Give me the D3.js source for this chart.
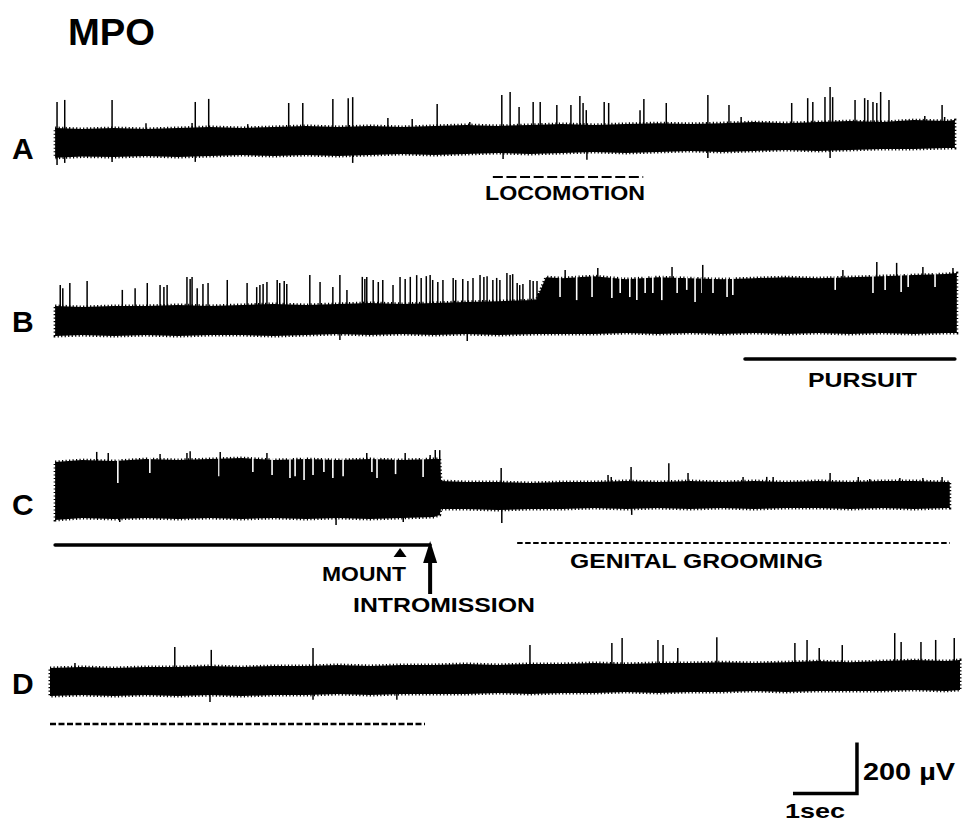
<!DOCTYPE html>
<html>
<head>
<meta charset="utf-8">
<script src="https://cdn.jsdelivr.net/npm/d3@7/dist/d3.min.js"></script>
<style>
  body { margin: 0; background: #fff; }
  svg { display: block; }
  text { font-family: "Liberation Sans", Arial, Helvetica, sans-serif; font-weight: bold; fill: #000; }
</style>
</head>
<body>
<svg id="chart" width="962" height="823"></svg>
<script>
// ---- recordings: envelope rows are [time (s), upper (µV), lower (µV)] ----
const envA = [
  [0.08, 55, -62], [0.5, 51, -57], [1.0, 55, -59], [1.5, 51, -55], [2.0, 55, -59],
  [2.5, 59, -55], [3.0, 55, -51], [3.5, 59, -55], [4.0, 63, -51], [4.5, 59, -55],
  [5.0, 63, -51], [5.5, 59, -47], [6.0, 63, -51], [6.5, 67, -47], [7.0, 63, -43],
  [7.5, 67, -47], [8.0, 71, -43], [8.5, 67, -39], [9.0, 71, -43], [9.5, 74, -39],
  [10.0, 71, -35], [10.5, 74, -39], [11.0, 78, -35], [11.5, 74, -31], [12.0, 78, -35],
  [12.5, 82, -31], [13.0, 78, -27], [13.5, 86, -27], [14.0, 82, -24], [14.14, 86, -24]
];
// unit discharges: [time (s), peak (µV)], negative peaks point down
const spikesA = [
  [0.11, 157], [0.23, 165], [0.97, 165], [1.50, 74], [2.22, 75], [2.27, 157], [2.48, 169],
  [3.09, 70], [3.73, 153], [3.95, 153], [4.42, 169], [4.66, 172], [4.73, 176], [5.28, 94],
  [5.66, 90], [6.05, 149], [6.56, 78], [7.06, 184], [7.19, 196], [7.33, 137], [7.55, 157],
  [7.66, 157], [7.92, 145], [8.14, 145], [8.28, 180], [8.33, 153], [8.38, 125], [8.66, 157],
  [8.73, 153], [9.22, 125], [9.28, 169], [9.63, 153], [10.28, 184], [10.61, 145], [10.80, 98],
  [11.59, 153], [11.84, 172], [11.92, 157], [12.11, 176], [12.19, 216], [12.23, 176],
  [12.58, 165], [12.73, 172], [12.78, 165], [12.86, 157], [12.92, 153], [12.98, 196],
  [13.11, 165], [13.67, 102], [13.94, 145], [13.98, 98],
  [0.11, -90], [0.23, -82], [0.97, -78], [2.27, -78], [4.73, -82], [7.08, -67],
  [8.39, -70], [10.28, -63], [12.19, -63]
];

const envB = [
  [0.08, 55, -63], [0.5, 51, -59], [1.0, 55, -63], [1.5, 55, -59], [2.0, 59, -63],
  [2.5, 55, -59], [3.0, 59, -59], [3.5, 63, -63], [4.0, 59, -59], [4.5, 63, -55],
  [5.0, 67, -59], [5.5, 63, -55], [6.0, 67, -59], [6.5, 71, -55], [7.0, 74, -59],
  [7.6, 78, -55], [7.75, 168, -55], [8.0, 164, -55], [8.5, 172, -55], [9.0, 160, -51],
  [9.5, 168, -55], [10.0, 164, -51], [10.5, 160, -55], [11.0, 164, -51], [11.5, 168, -55],
  [12.0, 164, -51], [12.5, 168, -55], [13.0, 172, -51], [13.5, 176, -55], [14.0, 180, -51],
  [14.17, 184, -51]
];
const spikesB = [
  [0.16, 137], [0.20, 125], [0.31, 145], [0.58, 153], [1.13, 118], [1.33, 125], [1.52, 145],
  [1.72, 137], [1.78, 129], [1.83, 137], [2.14, 169], [2.19, 161], [2.22, 169], [2.30, 125],
  [2.39, 141], [2.47, 145], [2.77, 157], [3.08, 145], [3.23, 129], [3.28, 137], [3.33, 141],
  [3.39, 149], [3.55, 157], [3.59, 145], [3.66, 153], [3.70, 141], [4.06, 176], [4.22, 149],
  [4.42, 129], [4.53, 176], [4.64, 118], [4.88, 169], [4.92, 161], [4.95, 169], [5.05, 157],
  [5.13, 149], [5.20, 157], [5.36, 137], [5.47, 169], [5.55, 161], [5.63, 169], [5.73, 176],
  [5.80, 165], [5.88, 172], [5.94, 176], [5.98, 157], [6.06, 149], [6.14, 157], [6.30, 165],
  [6.34, 157], [6.45, 161], [6.53, 153], [6.61, 165], [6.72, 176], [6.78, 169], [6.83, 172],
  [6.92, 157], [6.98, 165], [7.03, 157], [7.14, 184], [7.19, 176], [7.23, 180], [7.30, 145],
  [7.34, 137], [7.39, 141], [7.50, 157], [7.55, 153], [7.61, 153], [7.63, 106],
  [8.05, 196], [8.56, 204], [9.72, 208], [10.20, 216], [12.39, 196], [12.92, 227],
  [13.23, 224], [13.64, 208], [14.11, 204],
  [4.53, -78], [6.52, -82]
];
// dips in the upper edge during the sustained discharge: [time (s), depth (µV)]
const dipsB = [
  [7.97, 90], [8.23, 78], [8.47, 90], [8.78, 86], [8.91, 106], [9.06, 90], [9.17, 78],
  [9.30, 106], [9.42, 106], [9.56, 78], [9.80, 106], [9.95, 118], [10.08, 71], [10.19, 106],
  [10.36, 106], [10.58, 90], [10.67, 98], [12.27, 118], [12.86, 106], [13.05, 118],
  [13.30, 110], [13.41, 129], [13.83, 129]
];

const envC = [
  [0.08, 129, -98], [0.5, 137, -90], [1.0, 133, -94], [1.5, 141, -90], [2.0, 137, -94],
  [2.5, 141, -90], [3.0, 145, -94], [3.5, 137, -90], [4.0, 141, -94], [4.5, 137, -90],
  [5.0, 141, -94], [5.5, 137, -90], [6.0, 141, -86], [6.09, 141, -78], [6.11, 55, -55],
  [6.5, 51, -55], [7.0, 51, -59], [7.5, 47, -55], [8.0, 51, -55], [8.5, 51, -51],
  [9.0, 55, -55], [9.5, 51, -51], [10.0, 55, -55], [10.5, 51, -51], [11.0, 55, -55],
  [11.5, 51, -51], [12.0, 55, -51], [12.5, 51, -55], [13.0, 55, -51], [13.5, 55, -55],
  [14.0, 51, -51], [14.06, 51, -51]
];
const spikesC = [
  [0.73, 169], [0.91, 165], [1.72, 161], [2.14, 165], [2.19, 172], [2.66, 169], [3.39, 165],
  [4.95, 165], [5.55, 165], [5.94, 157], [6.02, 176], [6.09, 176],
  [7.05, 106], [8.72, 78], [8.77, 71], [9.08, 110], [9.67, 125], [9.97, 86], [10.83, 71],
  [11.20, 71], [11.30, 71], [12.19, 86], [12.63, 71], [12.81, 63], [13.28, 67], [13.64, 67],
  [13.94, 71],
  [1.09, -106], [4.47, -118], [5.52, -106], [7.06, -110], [9.09, -78]
];
const dipsC = [
  [1.06, 47], [1.56, 86], [2.64, 74], [3.17, 90], [3.47, 78], [3.75, 67], [3.83, 74],
  [3.97, 59], [4.11, 78], [4.28, 90], [4.42, 67], [4.58, 74], [5.03, 90], [5.11, 67],
  [5.40, 82], [5.83, 71]
];

const envD = [
  [0.0, 51, -59], [0.5, 55, -55], [1.0, 51, -59], [1.5, 55, -55], [2.0, 55, -59],
  [2.5, 59, -55], [3.0, 55, -59], [3.5, 59, -55], [4.0, 59, -55], [4.5, 63, -51],
  [5.0, 59, -55], [5.5, 63, -51], [6.0, 63, -51], [6.5, 67, -51], [7.0, 63, -47],
  [7.5, 67, -51], [8.0, 67, -47], [8.5, 71, -47], [9.0, 67, -43], [9.5, 71, -47],
  [10.0, 71, -43], [10.5, 74, -43], [11.0, 71, -39], [11.5, 74, -43], [12.0, 78, -39],
  [12.5, 74, -39], [13.0, 78, -39], [13.5, 82, -35], [14.0, 78, -39], [14.22, 82, -35]
];
const spikesD = [
  [0.39, 71], [1.95, 133], [2.52, 122], [4.11, 129], [7.50, 141], [8.78, 149], [8.94, 169],
  [9.50, 161], [9.58, 141], [9.81, 129], [10.42, 172], [11.64, 149], [11.83, 161],
  [12.02, 129], [12.38, 141], [13.20, 188], [13.30, 153], [13.61, 153], [13.84, 161],
  [14.13, 169],
  [2.50, -82], [4.11, -74], [5.42, -74]
];

const traceLabels = ["A", "B", "C", "D"];

// behavioural epochs: [trace, start (s), end (s)]
const epochLocomotion = ["A", 6.92, 9.27];
const epochPursuit = ["B", 10.86, 14.14];
const epochMount = ["C", 0.08, 5.94];
const epochGrooming = ["C", 7.30, 14.06];
const epochGroomingD = ["D", 0.0, 5.86];
const mountTime = 5.47;
const intromissionTime = 5.94;

// calibration: 1 s by 200 µV
const calTime = [11.61, 12.61];
const calVolt = [0, 200];

// ---- drawing ----
const svg = d3.select("#chart");
const x = d3.scaleLinear().domain([0, 14.22]).range([50, 960]);
const PX_PER_200UV = 51;
const rowBase = { A: 142, B: 320, C: 495, D: 681 };
const yFor = id => d3.scaleLinear().domain([0, 200]).range([rowBase[id], rowBase[id] - PX_PER_200UV]);

const traces = [
  { id: "A", env: envA, spikes: spikesA, dips: [] },
  { id: "B", env: envB, spikes: spikesB, dips: dipsB },
  { id: "C", env: envC, spikes: spikesC, dips: dipsC },
  { id: "D", env: envD, spikes: spikesD, dips: [] }
];

const labelBaseline = { A: 159, B: 332, C: 515, D: 694 };

traces.forEach(tr => {
  const y = yFor(tr.id);
  const g = svg.append("g").attr("class", "trace-" + tr.id);

  const area = d3.area()
    .x(d => x(d[0]))
    .y0(d => y(d[2]))
    .y1(d => y(d[1]))
    .curve(d3.curveLinear);
  // solid envelope, outlined with a serrated stroke for the ink-trace edge
  g.append("path").datum(tr.env).attr("d", area)
    .attr("fill", "#000")
    .attr("stroke", "#000").attr("stroke-width", 3)
    .attr("stroke-dasharray", "1.2,2.3");

  g.selectAll("line.dip").data(tr.dips).join("line")
    .attr("class", "dip")
    .attr("x1", d => x(d[0])).attr("x2", d => x(d[0]))
    .attr("y1", y(240)).attr("y2", d => y(d[1]))
    .attr("stroke", "#fff").attr("stroke-width", 1.6);

  g.selectAll("line.spike").data(tr.spikes).join("line")
    .attr("class", "spike")
    .attr("x1", d => x(d[0])).attr("x2", d => x(d[0]))
    .attr("y1", y(0)).attr("y2", d => y(d[1]))
    .attr("stroke", "#000").attr("stroke-width", 1.5);
});

traceLabels.forEach(id => {
  svg.append("text").attr("x", 12).attr("y", labelBaseline[id])
    .attr("font-size", 30).text(id);
});

svg.append("text").attr("x", 68).attr("y", 45).attr("font-size", 37)
  .attr("textLength", 87).attr("lengthAdjust", "spacingAndGlyphs").text("MPO");

function epochLine(ep, yPix, dash, width) {
  svg.append("line")
    .attr("x1", x(ep[1])).attr("x2", x(ep[2]))
    .attr("y1", yPix).attr("y2", yPix)
    .attr("stroke", "#000").attr("stroke-width", width)
    .attr("stroke-dasharray", dash)
    .attr("stroke-linecap", dash ? "butt" : "round");
}
function label(txt, x0, base, size, len) {
  svg.append("text").attr("x", x0).attr("y", base).attr("font-size", size)
    .attr("textLength", len).attr("lengthAdjust", "spacingAndGlyphs").text(txt);
}

epochLine(epochLocomotion, 177, "10,3.6", 2);
label("LOCOMOTION", 485, 200, 21, 160);

epochLine(epochPursuit, 359, null, 3.5);
label("PURSUIT", 808, 387, 21, 109);

epochLine(epochMount, 545, null, 3.5);
epochLine(epochGrooming, 543, "5.5,2.5", 2);
label("GENITAL GROOMING", 570, 568, 21, 253);

epochLine(epochGroomingD, 724, "6,2.5", 2.5);

// mount marker and intromission arrow
const xm = x(mountTime);
svg.append("path")
  .attr("d", `M${xm - 6.5},557 L${xm},548 L${xm + 6.5},557 Z`).attr("fill", "#000");
label("MOUNT", 322, 581, 21, 84);

const xi = x(intromissionTime);
svg.append("rect").attr("x", xi - 2).attr("y", 556).attr("width", 4).attr("height", 38).attr("fill", "#000");
svg.append("path")
  .attr("d", `M${xi - 7},563 L${xi},541 L${xi + 7},563 Z`).attr("fill", "#000");
label("INTROMISSION", 353, 612, 21, 182);

// calibration bar
const yCal = d3.scaleLinear().domain([0, 200]).range([793.5, 793.5 - PX_PER_200UV]);
svg.append("path")
  .attr("d", `M${x(calTime[0])},${yCal(calVolt[0])} L${x(calTime[1])},${yCal(calVolt[0])} L${x(calTime[1])},${yCal(calVolt[1])}`)
  .attr("fill", "none").attr("stroke", "#000").attr("stroke-width", 3.5);
label("200 µV", 863, 780, 23, 92);
label("1sec", 785, 818, 21, 60);
</script>
</body>
</html>
